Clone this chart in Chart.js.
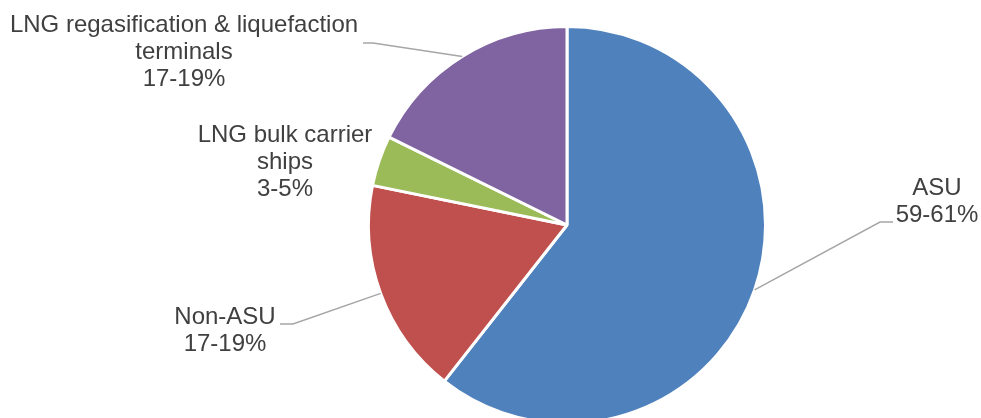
<!DOCTYPE html>
<html>
<head>
<meta charset="utf-8">
<script src="https://cdn.jsdelivr.net/npm/chart.js@4/dist/chart.umd.min.js"></script>
<style>
  html, body { margin: 0; padding: 0; background: #fff; overflow: hidden; }
  #wrap { position: absolute; left: 0; top: 0; width: 981px; height: 460px; }
</style>
</head>
<body>
<div id="wrap"><canvas id="pieChart"></canvas></div>
<script>
// Pie data (slice sizes, ranges as labelled)
const categories = ['ASU', 'Non-ASU', 'LNG bulk carrier ships', 'LNG regasification & liquefaction terminals'];
const shares = [60.6, 17.6, 4.1, 17.7];
const rangeLabels = ['59-61%', '17-19%', '3-5%', '17-19%'];
const sliceColors = ['#4F81BD', '#C0504D', '#9BBB59', '#8064A2'];

// where each callout sits (x = text centre, y = first baseline) and its leader line
const callouts = [
  { x: 937, y: 195, maxWidth: 200, elbow: [880, 222], end: 893 },
  { x: 225, y: 324, maxWidth: 200, elbow: [293, 324], end: 280 },
  { x: 285, y: 142, maxWidth: 200 },
  { x: 184, y: 32, maxWidth: 370, elbow: [373, 43], end: 363 }
];

const FONT = '24px "Liberation Sans", Arial, sans-serif';
const LINE_H = 27;

function wrap(ctx, text, maxWidth) {
  const words = text.split(' ');
  const lines = [];
  let cur = '';
  words.forEach(w => {
    const test = cur ? cur + ' ' + w : w;
    if (cur && ctx.measureText(test).width > maxWidth) {
      lines.push(cur);
      cur = w;
    } else {
      cur = test;
    }
  });
  if (cur) lines.push(cur);
  return lines;
}

const calloutPlugin = {
  id: 'callouts',
  afterDatasetsDraw(chart) {
    const ctx = chart.ctx;
    const arcs = chart.getDatasetMeta(0).data;
    ctx.save();
    ctx.font = FONT;
    ctx.fillStyle = '#404040';
    ctx.textAlign = 'center';
    ctx.textBaseline = 'alphabetic';
    arcs.forEach((arc, i) => {
      const c = callouts[i];
      const p = arc.getProps(['x', 'y', 'startAngle', 'endAngle', 'outerRadius'], true);
      if (c.elbow) {
        const mid = (p.startAngle + p.endAngle) / 2;
        const r = p.outerRadius;
        ctx.beginPath();
        ctx.strokeStyle = '#A6A6A6';
        ctx.lineWidth = 1.5;
        ctx.moveTo(p.x + Math.cos(mid) * r, p.y + Math.sin(mid) * r);
        ctx.lineTo(c.elbow[0], c.elbow[1]);
        ctx.lineTo(c.end, c.elbow[1]);
        ctx.stroke();
      }
      const lines = wrap(ctx, categories[i], c.maxWidth).concat([rangeLabels[i]]);
      lines.forEach((ln, k) => ctx.fillText(ln, c.x, c.y + k * LINE_H));
    });
    ctx.restore();
  }
};

new Chart(document.getElementById('pieChart').getContext('2d'), {
  type: 'pie',
  data: {
    labels: categories,
    datasets: [{
      data: shares,
      backgroundColor: sliceColors,
      borderColor: '#ffffff',
      borderWidth: 3
    }]
  },
  options: {
    responsive: true,
    maintainAspectRatio: false,
    animation: false,
    layout: { padding: { left: 367, right: 214, top: 25, bottom: 35 } },
    plugins: {
      legend: { display: false },
      tooltip: { enabled: false }
    }
  },
  plugins: [calloutPlugin]
});
</script>
</body>
</html>
